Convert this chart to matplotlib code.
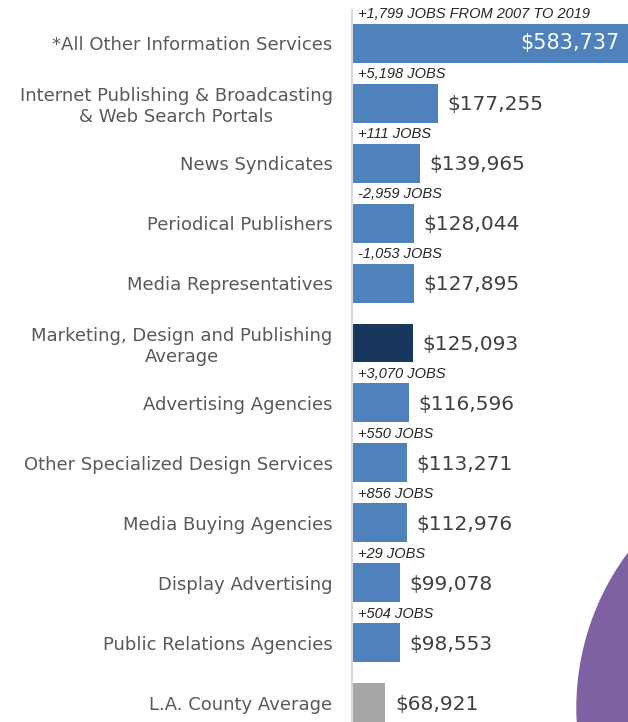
import matplotlib.pyplot as plt
from matplotlib.patches import Circle
from matplotlib import font_manager

# Chart data
categories = [
    "*All Other Information Services",
    "Internet Publishing & Broadcasting\n& Web Search Portals",
    "News Syndicates",
    "Periodical Publishers",
    "Media Representatives",
    "Marketing, Design and Publishing\nAverage",
    "Advertising Agencies",
    "Other Specialized Design Services",
    "Media Buying Agencies",
    "Display Advertising",
    "Public Relations Agencies",
    "L.A. County Average",
]
wages = [583737, 177255, 139965, 128044, 127895, 125093,
         116596, 113271, 112976, 99078, 98553, 68921]
job_changes = ["+1,799 JOBS FROM 2007 TO 2019", "+5,198 JOBS", "+111 JOBS",
               "-2,959 JOBS", "-1,053 JOBS", "",
               "+3,070 JOBS", "+550 JOBS", "+856 JOBS", "+29 JOBS",
               "+504 JOBS", ""]

BLUE = "#4F81BD"
NAVY = "#17375E"
GREY = "#A6A6A6"
colors = [BLUE] * 5 + [NAVY] + [BLUE] * 5 + [GREY]

names = {f.name for f in font_manager.fontManager.ttflist}
narrow = "Liberation Sans Narrow" if "Liberation Sans Narrow" in names else "Liberation Sans"

fig = plt.figure(figsize=(6.28, 7.22), dpi=100)
ax = fig.add_axes([352 / 628, 0, 1 - 352 / 628, 1])
ax.set_facecolor("none")

# decorative purple circle in the lower right corner
circ = Circle((8.36, 0.14), 2.59, transform=fig.dpi_scale_trans,
              color="#7D61A3", zorder=-1)
fig.add_artist(circ)

y = list(range(len(categories)))
ax.barh(y, wages, height=0.65, color=colors, zorder=2)

ax.set_xlim(0, 569000)
ax.set_ylim(11.317, -0.717)

ax.set_yticks(y)
ax.set_yticklabels(categories, fontsize=13, color="#595959",
                   family="DejaVu Sans", multialignment="center")
ax.tick_params(axis="y", length=0, pad=14)
ax.set_xticks([])

for s in ["top", "right", "bottom"]:
    ax.spines[s].set_visible(False)
ax.spines["left"].set_color("#D9D9D9")
ax.spines["left"].set_linewidth(1.5)
ax.spines["left"].set_bounds(11.4, -0.55)

for i, (v, lab) in enumerate(zip(wages, job_changes)):
    txt = f"${v:,}"
    if i == 0:
        ax.annotate(txt, (ax.get_xlim()[1], i), xytext=(-6, 0),
                    textcoords="offset points", ha="right", va="center",
                    fontsize=15, color="white", family="DejaVu Sans", zorder=3)
    else:
        ax.annotate(txt, (v, i), xytext=(7, -1), textcoords="offset points",
                    ha="left", va="center", fontsize=14.5, color="#404040",
                    family="DejaVu Sans", zorder=3)
    if lab:
        ax.annotate(lab, (0, i - 0.325), xytext=(4, 1.5),
                    textcoords="offset points", ha="left", va="bottom",
                    fontsize=10.5, style="italic", color="#262626",
                    family=narrow, zorder=3)

fig.savefig("out.png", dpi=100)
